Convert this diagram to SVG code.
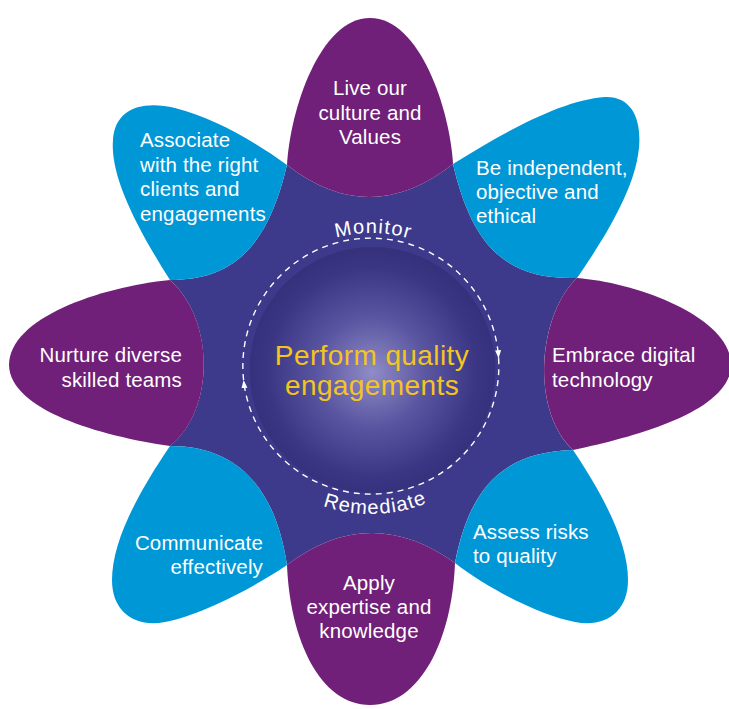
<svg xmlns="http://www.w3.org/2000/svg" xmlns:xlink="http://www.w3.org/1999/xlink" width="729" height="709" viewBox="0 0 729 709">
  <style>
    .purple { fill: #702078; }
    .blue { fill: #0097d7; }
    .dark { fill: #3d3a8b; }
    .lbl { font-family: "Liberation Sans", Arial, sans-serif; font-size: 20.5px; fill: #ffffff; letter-spacing: 0.15px; }
    .mid { text-anchor: middle; }
    .end { text-anchor: end; }
    .center { font-family: "Liberation Sans", Arial, sans-serif; font-size: 28px; fill: #f4c51e; text-anchor: middle; letter-spacing: 0.4px; }
    .loop { fill: none; stroke: #ffffff; stroke-width: 1.4; stroke-dasharray: 6 5; }
    .loopLbl { font-family: "Liberation Sans", Arial, sans-serif; font-size: 20px; fill: #ffffff; letter-spacing: 1.2px; }
  </style>
  <defs>
    <radialGradient id="sphere" cx="372" cy="372" r="123" gradientUnits="userSpaceOnUse">
      <stop offset="0" stop-color="#8f8cc7"/>
      <stop offset="0.45" stop-color="#5a55a0"/>
      <stop offset="0.85" stop-color="#3b3684"/>
      <stop offset="1" stop-color="#36317c"/>
    </radialGradient>
    <marker id="arrow" markerUnits="userSpaceOnUse" markerWidth="9" markerHeight="7" refX="8" refY="3" orient="auto">
      <path d="M0,0 L8,3 L0,6 Z" fill="#ffffff"/>
    </marker>
    <path id="monPath" d="M 236 368 A 135 135 0 0 1 506 368"/>
    <path id="remPath" d="M 225 368 A 146 146 0 0 0 517 368"/>
  </defs>

  <g id="core-background">
    <path class="dark" d="M 287 165 Q 370 229.5 453 164 C 472 245, 505 280, 577 278 C 538 315, 530 410, 573 450 C 505 452, 470 485, 455 563 Q 370 502 287 565 C 275 485, 235 446, 170 446 C 215 410, 215 320, 170 280 C 235 280, 268 245, 287 165 Z"/>
  </g>

  <g id="node-live-culture">
    <path class="purple" d="M 287 165 C 290 110, 320 18, 370 18 C 420 18, 450 110, 453 164 Q 370 229.5 287 165 Z"/>
    <text class="lbl mid" x="370" y="95">Live our</text>
    <text class="lbl mid" x="370" y="120">culture and</text>
    <text class="lbl mid" x="370" y="144">Values</text>
  </g>

  <g id="node-independent">
    <path class="blue" d="M 453 164 C 500 135, 560 100, 605 97 C 635 96, 643 125, 638 155 C 632 195, 600 245, 577 278 C 505 280, 472 245, 453 164 Z"/>
    <text class="lbl" x="476" y="175">Be independent,</text>
    <text class="lbl" x="476" y="199">objective and</text>
    <text class="lbl" x="476" y="223">ethical</text>
  </g>

  <g id="node-digital">
    <path class="purple" d="M 577 278 C 640 283, 731 318, 731 365 C 731 410, 640 436, 573 450 C 530 410, 538 315, 577 278 Z"/>
    <text class="lbl" x="552" y="362">Embrace digital</text>
    <text class="lbl" x="552" y="387">technology</text>
  </g>

  <g id="node-risks">
    <path class="blue" d="M 573 450 C 600 490, 628 540, 628 580 C 628 612, 605 628, 575 622 C 540 615, 490 590, 455 563 C 470 485, 505 452, 573 450 Z"/>
    <text class="lbl" x="473" y="539">Assess risks</text>
    <text class="lbl" x="473" y="563">to quality</text>
  </g>

  <g id="node-expertise">
    <path class="purple" d="M 455 563 C 452 640, 420 705, 370 705 C 320 705, 290 640, 287 565 Q 370 502 455 563 Z"/>
    <text class="lbl mid" x="369" y="590">Apply</text>
    <text class="lbl mid" x="369" y="614">expertise and</text>
    <text class="lbl mid" x="369" y="638">knowledge</text>
  </g>

  <g id="node-communicate">
    <path class="blue" d="M 287 565 C 250 590, 200 615, 165 622 C 135 628, 112 612, 112 580 C 112 540, 140 490, 170 446 C 235 446, 275 485, 287 565 Z"/>
    <text class="lbl end" x="263" y="550">Communicate</text>
    <text class="lbl end" x="263" y="574">effectively</text>
  </g>

  <g id="node-teams">
    <path class="purple" d="M 170 446 C 100 436, 10 410, 9 365 C 9 318, 100 287, 170 280 C 215 320, 215 410, 170 446 Z"/>
    <text class="lbl end" x="182" y="362">Nurture diverse</text>
    <text class="lbl end" x="182" y="387">skilled teams</text>
  </g>

  <g id="node-associate">
    <path class="blue" d="M 170 280 C 135 225, 110 175, 113 140 C 115 110, 140 100, 175 108 C 215 118, 255 142, 287 165 C 268 245, 235 280, 170 280 Z"/>
    <text class="lbl" x="140" y="147">Associate</text>
    <text class="lbl" x="140" y="172">with the right</text>
    <text class="lbl" x="140" y="196">clients and</text>
    <text class="lbl" x="140" y="221">engagements</text>
  </g>

  <g id="node-perform">
    <circle cx="372.5" cy="370" r="123" fill="url(#sphere)"/>
    <text class="center" x="372" y="365">Perform quality</text>
    <text class="center" x="372" y="395">engagements</text>
  </g>

  <g id="connectors">
    <path class="loop" d="M 243.6 380 A 128 128 0 1 1 498.6 358.2" marker-end="url(#arrow)"/>
    <path class="loop" d="M 498.6 358.2 A 128 128 0 0 1 243.6 380" marker-end="url(#arrow)"/>
    <text class="loopLbl"><textPath xlink:href="#monPath" href="#monPath" startOffset="50.5%" text-anchor="middle">Monitor</textPath></text>
    <text class="loopLbl"><textPath xlink:href="#remPath" href="#remPath" startOffset="51%" text-anchor="middle">Remediate</textPath></text>
  </g>
</svg>
